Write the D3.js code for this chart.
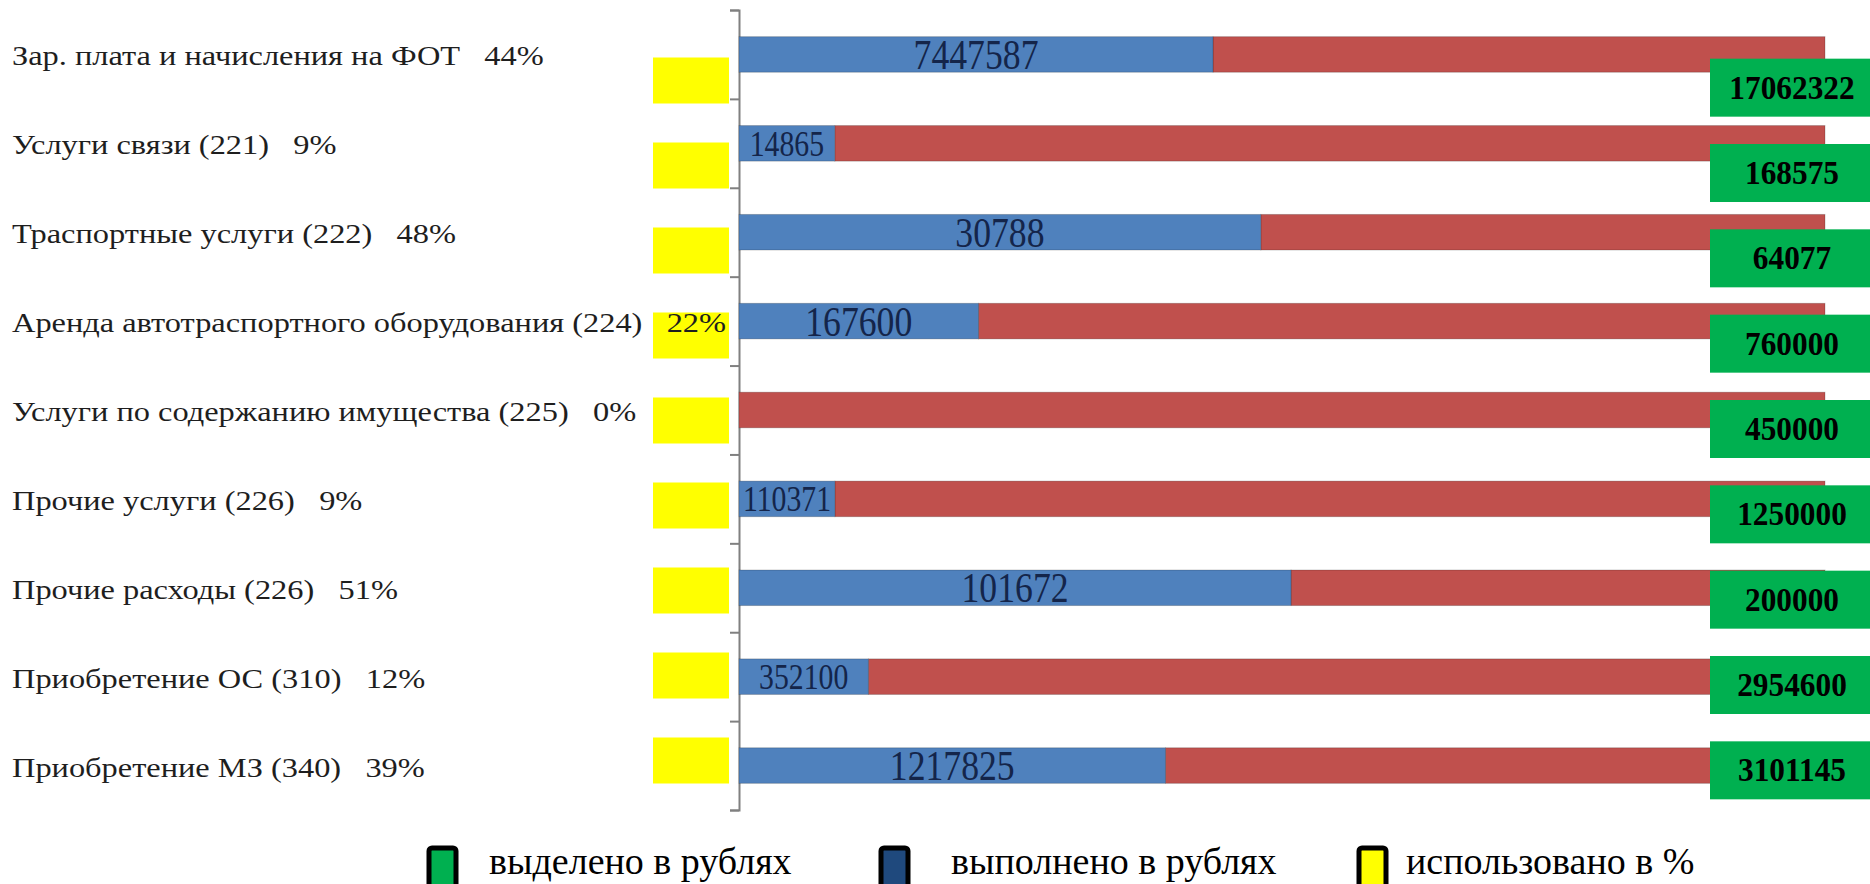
<!DOCTYPE html>
<html>
<head>
<meta charset="utf-8">
<script src="https://cdn.jsdelivr.net/npm/d3@7"></script>
<style>
  html, body { margin: 0; padding: 0; background: #fff; }
  svg { display: block; }
  text { font-family: "Liberation Serif", "DejaVu Serif", serif; }
</style>
</head>
<body>
<svg width="1870" height="884"></svg>
<script>
// data
var categories = [
  "Зар. плата и начисления на ФОТ",
  "Услуги связи (221)",
  "Траспортные услуги (222)",
  "Аренда автотраспортного оборудования (224)",
  "Услуги по содержанию имущества (225)",
  "Прочие услуги (226)",
  "Прочие расходы (226)",
  "Приобретение ОС (310)",
  "Приобретение МЗ (340)"
];
var allocated = [17062322, 168575, 64077, 760000, 450000, 1250000, 200000, 2954600, 3101145];
var done = [7447587, 14865, 30788, 167600, 0, 110371, 101672, 352100, 1217825];
var usedPct = [44, 9, 48, 22, 0, 9, 51, 12, 39];
var legendLabels = ["выделено в рублях", "выполнено в рублях", "использовано в %"];

var colors = { alloc: "#00b050", done: "#4f81bd", rest: "#c0504d", used: "#ffff00", legendDone: "#1f497d" };

var svg = d3.select("svg");

var rows = categories.map(function(c, i) {
  return { name: c, alloc: allocated[i], done: done[i], pct: usedPct[i], share: done[i] / allocated[i] };
});

var x = d3.scaleLinear().domain([0, 1]).range([739, 1825]);
var y = d3.scaleBand().domain(categories).range([10, 810]).paddingInner(0.6).paddingOuter(0.3);
var yTicks = d3.scaleLinear().domain([0, categories.length]).range([10, 810]);
var yYellow = d3.scaleBand().domain(categories).range([38, 803]);
var yGreen = d3.scaleBand().domain(categories).range([45, 813]);

// yellow markers (used %)
svg.append("g").selectAll("rect")
  .data(rows)
  .enter().append("rect")
    .attr("x", 653)
    .attr("y", function(d) { return yYellow(d.name) + yYellow.bandwidth() / 2 - 23; })
    .attr("width", 76)
    .attr("height", 46)
    .attr("fill", colors.used);

// category labels
svg.append("g").selectAll("text")
  .data(rows)
  .enter().append("text")
    .attr("transform", function(d) {
      return "translate(12," + (y(d.name) + y.bandwidth() / 2 + 11) + ") scale(1.2,1)";
    })
    .attr("font-size", 27)
    .attr("fill", "#1e1e1e")
    .style("white-space", "pre")
    .text(function(d) { return d.name + "   " + d.pct + "%"; });

// axis
var axis = svg.append("g")
  .attr("transform", "translate(739,0)")
  .call(d3.axisLeft(yTicks).tickValues(d3.range(categories.length + 1)).tickSize(9).tickFormat(""));
axis.selectAll("path, line").attr("stroke", "#808080").attr("stroke-width", 2);

// stacked bars
var bars = svg.append("g");
bars.selectAll("rect.rest")
  .data(rows)
  .enter().append("rect")
    .attr("class", "rest")
    .attr("x", function(d) { return x(d.share); })
    .attr("y", function(d) { return y(d.name); })
    .attr("width", function(d) { return x(1) - x(d.share); })
    .attr("height", y.bandwidth())
    .attr("fill", colors.rest)
    .attr("stroke", "rgba(0,0,0,0.2)");
bars.selectAll("rect.done")
  .data(rows.filter(function(d) { return d.done > 0; }))
  .enter().append("rect")
    .attr("class", "done")
    .attr("x", x(0))
    .attr("y", function(d) { return y(d.name); })
    .attr("width", function(d) { return x(d.share) - x(0); })
    .attr("height", y.bandwidth())
    .attr("fill", colors.done)
    .attr("stroke", "rgba(0,0,0,0.2)");

// labels inside blue parts
bars.selectAll("g.lab")
  .data(rows.filter(function(d) { return d.done > 0; }))
  .enter().append("g")
    .attr("class", "lab")
    .attr("transform", function(d) {
      var small = x(d.share) - x(0) < 150;
      var cx = (x(0) + x(d.share)) / 2;
      var cy = y(d.name) + y.bandwidth() / 2 + (small ? 12.5 : 14.5);
      return "translate(" + cx + "," + cy + ") scale(0.85,1)";
    })
  .append("text")
    .attr("text-anchor", "middle")
    .attr("font-size", function(d) { return x(d.share) - x(0) < 150 ? 35 : 42; })
    .attr("fill", "#14254a")
    .text(function(d) { return d.done; });

// green boxes (allocated)
var green = svg.append("g").selectAll("g")
  .data(rows)
  .enter().append("g")
    .attr("transform", function(d) { return "translate(0," + (yGreen(d.name) + yGreen.bandwidth() / 2) + ")"; });
green.append("rect")
  .attr("x", 1710)
  .attr("y", -29)
  .attr("width", 160)
  .attr("height", 58)
  .attr("fill", colors.alloc);
green.append("text")
  .attr("transform", "translate(1792,11) scale(0.95,1)")
  .attr("text-anchor", "middle")
  .attr("font-size", 33)
  .attr("font-weight", "bold")
  .attr("fill", "#000")
  .text(function(d) { return d.alloc; });

// legend
var legendColors = [colors.alloc, colors.legendDone, colors.used];
var legendX = [429, 881, 1359];
var legendTextX = [489, 951, 1406];
var legend = svg.append("g").selectAll("g")
  .data(legendLabels)
  .enter().append("g");
legend.append("rect")
  .attr("x", function(d, i) { return legendX[i]; })
  .attr("y", 848)
  .attr("width", 27)
  .attr("height", 40)
  .attr("rx", 3)
  .attr("fill", function(d, i) { return legendColors[i]; })
  .attr("stroke", "#000")
  .attr("stroke-width", 5);
legend.append("text")
  .attr("x", function(d, i) { return legendTextX[i]; })
  .attr("y", 874)
  .attr("font-size", 38)
  .attr("fill", "#000")
  .text(function(d) { return d; });
</script>
</body>
</html>
